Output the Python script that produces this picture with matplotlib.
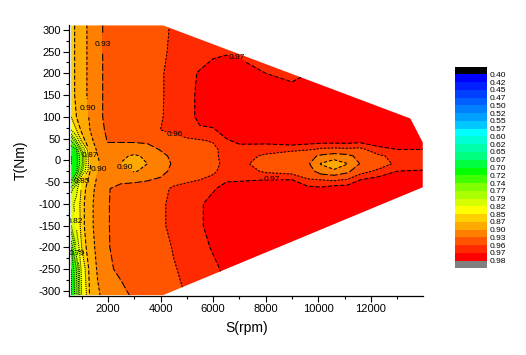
import numpy as np
import matplotlib.pyplot as plt
from matplotlib.colors import ListedColormap, BoundaryNorm
from matplotlib.patches import Polygon

plt.rcParams['font.family'] = ['Liberation Sans', 'DejaVu Sans']
plt.rcParams['axes.unicode_minus'] = False

# --- data ---
speed = [600, 800, 1000, 1300, 1600, 2000, 2500, 3000, 3500, 4000, 4500, 5000, 5500,
         6000, 6500, 7000, 8000, 9000, 9600, 10100, 10600, 11100, 11600, 12300, 13000, 14000]
torque = [-310, -250, -200, -150, -100, -65, -45, -25, -8, 10, 25, 45, 70, 100, 150, 200, 250, 310]

eff = [
    # T = -310
    [0.700, 0.730, 0.820, 0.870, 0.895, 0.915, 0.925, 0.933, 0.940, 0.947, 0.955, 0.961, 0.964,
     0.967, 0.970, 0.975, 0.976, 0.976, 0.976, 0.976, 0.976, 0.976, 0.976, 0.976, 0.976, 0.975],
    # T = -250
    [0.700, 0.740, 0.830, 0.875, 0.903, 0.927, 0.934, 0.940, 0.946, 0.952, 0.959, 0.963, 0.966,
     0.968, 0.972, 0.975, 0.976, 0.976, 0.976, 0.976, 0.976, 0.976, 0.976, 0.976, 0.976, 0.975],
    # T = -200
    [0.720, 0.790, 0.850, 0.885, 0.908, 0.929, 0.936, 0.942, 0.948, 0.955, 0.961, 0.964, 0.967,
     0.971, 0.974, 0.975, 0.976, 0.977, 0.977, 0.977, 0.977, 0.977, 0.977, 0.976, 0.976, 0.975],
    # T = -150
    [0.790, 0.825, 0.860, 0.890, 0.912, 0.929, 0.938, 0.943, 0.949, 0.958, 0.963, 0.966, 0.969,
     0.973, 0.975, 0.976, 0.977, 0.977, 0.977, 0.977, 0.977, 0.977, 0.977, 0.976, 0.976, 0.975],
    # T = -100
    [0.810, 0.830, 0.860, 0.890, 0.912, 0.929, 0.938, 0.943, 0.949, 0.958, 0.963, 0.966, 0.969,
     0.973, 0.975, 0.976, 0.977, 0.977, 0.977, 0.977, 0.977, 0.977, 0.977, 0.976, 0.976, 0.975],
    # T = -65
    [0.780, 0.810, 0.855, 0.885, 0.910, 0.929, 0.935, 0.940, 0.945, 0.956, 0.962, 0.964, 0.966,
     0.969, 0.973, 0.975, 0.975, 0.975, 0.973, 0.972, 0.976, 0.975, 0.976, 0.976, 0.976, 0.975],
    # T = -45
    [0.715, 0.760, 0.852, 0.875, 0.905, 0.925, 0.926, 0.925, 0.928, 0.935, 0.955, 0.958, 0.960,
     0.963, 0.969, 0.969, 0.970, 0.970, 0.962, 0.960, 0.958, 0.962, 0.970, 0.974, 0.975, 0.974],
    # T = -25
    [0.705, 0.712, 0.780, 0.868, 0.898, 0.915, 0.906, 0.898, 0.906, 0.918, 0.940, 0.948, 0.953,
     0.958, 0.965, 0.966, 0.958, 0.955, 0.945, 0.915, 0.905, 0.922, 0.955, 0.963, 0.970, 0.971],
    # T = -8
    [0.700, 0.712, 0.760, 0.866, 0.897, 0.912, 0.899, 0.885, 0.900, 0.912, 0.935, 0.945, 0.950,
     0.957, 0.963, 0.963, 0.955, 0.948, 0.935, 0.898, 0.884, 0.899, 0.932, 0.953, 0.963, 0.964],
    # T = 10
    [0.700, 0.712, 0.760, 0.868, 0.899, 0.915, 0.905, 0.896, 0.905, 0.922, 0.937, 0.947, 0.951,
     0.958, 0.963, 0.965, 0.958, 0.952, 0.940, 0.925, 0.915, 0.922, 0.940, 0.958, 0.964, 0.965],
    # T = 25
    [0.705, 0.720, 0.790, 0.875, 0.905, 0.922, 0.918, 0.915, 0.918, 0.932, 0.944, 0.952, 0.954,
     0.957, 0.965, 0.967, 0.965, 0.963, 0.962, 0.958, 0.957, 0.958, 0.957, 0.968, 0.970, 0.970],
    # T = 45
    [0.740, 0.790, 0.855, 0.890, 0.912, 0.932, 0.933, 0.934, 0.936, 0.948, 0.955, 0.958, 0.959,
     0.961, 0.969, 0.972, 0.973, 0.977, 0.975, 0.975, 0.975, 0.975, 0.974, 0.974, 0.975, 0.974],
    # T = 70
    [0.820, 0.850, 0.875, 0.899, 0.920, 0.935, 0.936, 0.938, 0.945, 0.960, 0.963, 0.966, 0.969,
     0.969, 0.974, 0.975, 0.976, 0.976, 0.977, 0.977, 0.977, 0.977, 0.976, 0.976, 0.976, 0.975],
    # T = 100
    [0.850, 0.870, 0.885, 0.902, 0.925, 0.935, 0.940, 0.945, 0.951, 0.959, 0.964, 0.967, 0.972,
     0.975, 0.976, 0.976, 0.977, 0.977, 0.977, 0.977, 0.977, 0.977, 0.977, 0.976, 0.976, 0.975],
    # T = 150
    [0.860, 0.875, 0.890, 0.905, 0.925, 0.935, 0.940, 0.945, 0.951, 0.959, 0.963, 0.967, 0.972,
     0.976, 0.977, 0.977, 0.977, 0.976, 0.975, 0.975, 0.975, 0.975, 0.975, 0.975, 0.975, 0.975],
    # T = 200
    [0.860, 0.875, 0.890, 0.905, 0.925, 0.935, 0.940, 0.945, 0.951, 0.959, 0.963, 0.967, 0.971,
     0.974, 0.975, 0.974, 0.970, 0.966, 0.970, 0.972, 0.972, 0.972, 0.972, 0.972, 0.972, 0.972],
    # T = 250
    [0.860, 0.875, 0.890, 0.905, 0.925, 0.935, 0.940, 0.945, 0.951, 0.958, 0.962, 0.964, 0.965,
     0.968, 0.969, 0.968, 0.965, 0.965, 0.968, 0.972, 0.972, 0.972, 0.972, 0.972, 0.972, 0.972],
    # T = 310
    [0.860, 0.875, 0.890, 0.905, 0.925, 0.935, 0.940, 0.945, 0.951, 0.958, 0.961, 0.963, 0.965,
     0.965, 0.965, 0.965, 0.965, 0.965, 0.968, 0.972, 0.972, 0.972, 0.972, 0.972, 0.972, 0.972],
]

# operating envelope (outline of the map)
env_speed = [600, 4100, 13500, 13970, 13970, 4100, 600]
env_torque = [310, 310, 96, 41, -62, -310, -310]

levels = [0.40, 0.42, 0.45, 0.47, 0.50, 0.52, 0.55, 0.57, 0.60, 0.62, 0.65, 0.67, 0.70,
          0.72, 0.74, 0.77, 0.79, 0.82, 0.85, 0.87, 0.90, 0.93, 0.96, 0.97, 0.98]
band_colors = ['#0000FF', '#0020FF', '#0040FF', '#0060FF', '#0080FF', '#00A0FF', '#00C8FF',
               '#00FFFF', '#00FFD5', '#00FFAA', '#00FF80', '#00FF40', '#00FF00', '#40FF00',
               '#80FF00', '#AAFF00', '#D5FF00', '#FFFF00', '#FFD000', '#FFAA00', '#FF8000',
               '#FF5500', '#FF2A00', '#FF0000']
under_color = '#000000'
over_color = '#808080'

# contour labels: (level, speed, torque)
label_spots = [(0.93, 1770, 266), (0.90, 1125, 119), (0.87, 1450, 11), (0.90, 1750, -23),
               (0.90, 2700, -11), (0.85, 900, -48), (0.82, 820, -140), (0.79, 790, -215),
               (0.96, 4500, 50), (0.97, 6870, 232), (0.97, 8230, -46)]

W, H = 526, 355
fig = plt.figure(figsize=(W / 100, H / 100), dpi=100)
ax = fig.add_axes([69.3 / W, 1 - 296 / H, (423 - 69.3) / W, (296 - 25) / H])

cmap = ListedColormap(band_colors)
cmap.set_under(under_color)
cmap.set_over(over_color)
norm = BoundaryNorm(levels, cmap.N)

S, T = np.meshgrid(speed, torque)
Z = np.array(eff)

env = Polygon(np.column_stack([env_speed, env_torque]), closed=True,
              transform=ax.transData, facecolor='none', edgecolor='none')

cf = ax.contourf(S, T, Z, levels=levels, cmap=cmap, norm=norm, extend='both')
cf.set_clip_path(env)


def line_style(lv):
    if lv < 0.86:
        return (0, (1, 1))
    if lv < 0.88:
        return (0, (4, 2))
    if lv < 0.91:
        return (0, (3, 2))
    if lv < 0.94:
        return (0, (7, 2.5))
    if lv < 0.965:
        return (0, (2, 1.5))
    return (0, (4, 2))


lines = {}
for lv in levels:
    cs = ax.contour(S, T, Z, levels=[lv], colors='k', linewidths=0.75,
                    linestyles=[line_style(lv)])
    cs.set_clip_path(env)
    lines[lv] = cs

for lv in sorted(set(l for l, _, _ in label_spots)):
    spots = [(s, t) for l, s, t in label_spots if l == lv]
    txts = ax.clabel(lines[lv], manual=spots, inline=True, inline_spacing=1,
                     fontsize=6, fmt='%.2f', colors='k')
    for t in txts:
        t.set_rotation(0)

ax.set_xlim(530, 13980)
ax.set_ylim(-312, 311)
ax.set_xticks(range(2000, 13000, 2000))
ax.set_xticks(range(1000, 14000, 1000), minor=True)
ax.set_yticks(range(-300, 301, 50))
ax.set_yticks(range(-275, 300, 50), minor=True)
ax.tick_params(which='major', direction='out', length=4, width=0.8, labelsize=8, pad=2)
ax.tick_params(which='minor', direction='out', length=2.5, width=0.8)
for side in ('top', 'right'):
    ax.spines[side].set_visible(False)
for side in ('left', 'bottom'):
    ax.spines[side].set_linewidth(0.9)
ax.set_xlabel('S(rpm)', fontsize=10, labelpad=5)
ax.set_ylabel('T(Nm)', fontsize=10, labelpad=8)

# colour scale: under block, level bands, over block
cax = fig.add_axes([455 / W, 1 - 268.3 / H, 32 / W, 201.6 / H])
bar_cmap = ListedColormap([under_color] + band_colors + [over_color])
nblk = len(band_colors) + 2
cax.pcolormesh([0, 1], np.arange(nblk + 1), np.arange(nblk).reshape(-1, 1),
               cmap=bar_cmap, vmin=-0.5, vmax=nblk - 0.5)
cax.set_ylim(nblk, 0)
cax.set_xlim(0, 1)
cax.set_xticks([])
cax.yaxis.tick_right()
cax.set_yticks(np.arange(1, len(levels) + 1))
cax.set_yticklabels([f'{v:.2f}' for v in levels])
cax.tick_params(axis='y', length=0, labelsize=6, pad=2)
for sp in cax.spines.values():
    sp.set_visible(False)

fig.savefig('out.png', dpi=100)
